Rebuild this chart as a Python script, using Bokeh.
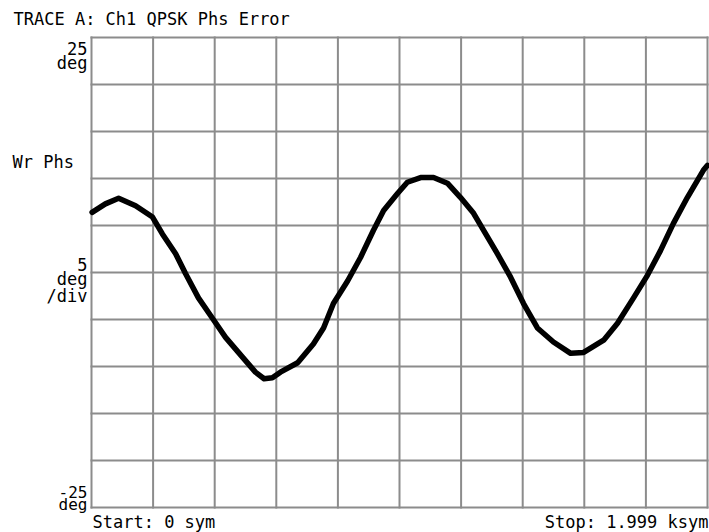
from bokeh.plotting import figure
from bokeh.models import Label, Range1d
from bokeh.embed import file_html
from bokeh.resources import INLINE

# ---- data (symbol index, phase error in deg) ----
symbols = [2, 45, 88, 143, 198, 230, 273, 305, 347, 393, 435, 490, 532, 560,
           587, 613, 669, 720, 753, 785, 831, 873, 915, 948, 993, 1025, 1068,
           1110, 1155, 1197, 1240, 1272, 1317, 1360, 1402, 1447, 1499, 1555,
           1597, 1662, 1707, 1759, 1804, 1846, 1888, 1934, 1986, 1999]
phase_err = [6.4, 7.3, 7.9, 7.1, 5.9, 4.1, 2.0, -0.1, -2.7, -4.9, -6.9, -9.0,
             -10.6, -11.3, -11.2, -10.6, -9.6, -7.6, -5.9, -3.3, -0.9, 1.6,
             4.5, 6.6, 8.4, 9.6, 10.1, 10.1, 9.5, 8.0, 6.3, 4.5, 2.0, -0.5,
             -3.3, -5.9, -7.4, -8.6, -8.5, -7.2, -5.4, -2.7, -0.3, 2.3, 5.2,
             8.0, 10.9, 11.4]

x_start, x_stop = 0, 1999
y_top, y_bottom = 25, -25
y_per_div = 5
n_div = 10

title_text = "TRACE A: Ch1 QPSK Phs Error"
start_text = "Start: 0 sym"
stop_text = "Stop: 1.999 ksym"

# ---- layout: the frame fills the canvas; grid box placed in page pixels ----
W, H = 709, 532
GL, GR, GT, GB = 91, 707, 37, 507   # grid box edges in pixels

sx = (x_stop - x_start) / (GR - GL)
sy = (y_top - y_bottom) / (GB - GT)

def xd(px):
    return x_start + (px - GL) * sx

def yd(py):
    return y_top - (py - GT) * sy

p = figure(width=W, height=H, output_backend="svg", toolbar_location=None,
           x_range=Range1d(xd(0), xd(W)), y_range=Range1d(yd(H), yd(0)),
           min_border=0, min_border_left=0, min_border_right=0,
           min_border_top=0, min_border_bottom=0)
p.xaxis.visible = False
p.yaxis.visible = False
p.xgrid.visible = False
p.ygrid.visible = False
p.outline_line_color = None
p.background_fill_color = "white"
p.border_fill_color = "white"

xt = [x_start + i * (x_stop - x_start) / n_div for i in range(n_div + 1)]
yt = [y_bottom + i * y_per_div for i in range(n_div + 1)]
GRID = "#8c8c8c"
p.segment(x0=xt, y0=[y_bottom] * len(xt), x1=xt, y1=[y_top] * len(xt),
          line_color=GRID, line_width=2, line_cap="square")
p.segment(x0=[x_start] * len(yt), y0=yt, x1=[x_stop] * len(yt), y1=yt,
          line_color=GRID, line_width=2, line_cap="square")

p.line(symbols, phase_err, line_color="black", line_width=5.5,
       line_join="round", line_cap="round")

FONT = "DejaVu Sans Mono"

def lab(txt, px, py, align="left", fs="17px"):
    p.add_layout(Label(x=xd(px), y=yd(py), text=txt, text_font=FONT,
                       text_font_size=fs, text_color="black",
                       text_align=align, text_baseline="alphabetic"))

lab(title_text, 13, 18)
lab("25", 87, 48, "right")
lab("deg", 87, 62, "right")
lab("Wr Phs", 12, 161)
lab("5", 87, 264, "right")
lab("deg", 87, 278, "right")
lab("/div", 87, 295, "right")
lab("-25", 87, 491, "right", "16px")
lab("deg", 87, 504, "right", "16px")
lab(start_text, 92, 521)
lab(stop_text, 708, 521, "right")

open("out.html", "w").write(file_html(p, INLINE))
